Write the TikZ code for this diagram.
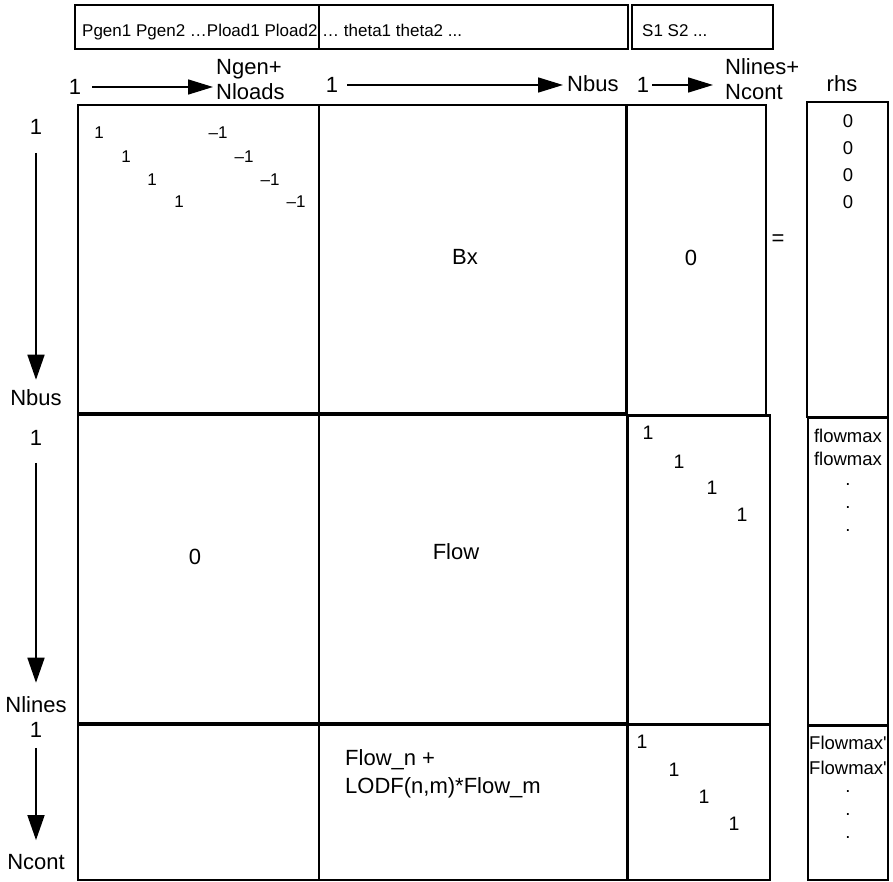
\documentclass[tikz,border=0pt]{standalone}
\usepackage{fontspec}
\setmainfont{Liberation Sans}
\usetikzlibrary{arrows.meta}
\begin{document}
\begin{tikzpicture}[x=1pt,y=-1pt,
  cell/.style={draw, line width=2pt, inner sep=0pt},
  hdrbox/.style={draw, line width=2.2pt, inner sep=0pt, minimum height=44pt},
  lbl/.style={font=\fontsize{22}{25}\selectfont, inner sep=0pt},
  hdrtxt/.style={font=\fontsize{17}{20}\selectfont, inner sep=0pt, anchor=base west},
  ent/.style={font=\fontsize{17}{20}\selectfont, inner sep=0pt},
  onee/.style={font=\fontsize{19.5}{22}\selectfont, inner sep=0pt},
  rhstxt/.style={font=\fontsize{18.5}{22}\selectfont, inner sep=0pt},
  harr/.style={line width=1.6pt, -{Triangle[length=25pt,width=15pt]}},
  varr/.style={line width=1.6pt, -{Triangle[length=25pt,width=17pt]}},
  sep/.style={line width=4pt}]
\useasboundingbox (0,0) rectangle (893,882);
% header boxes
\node[hdrbox, minimum width=244pt] (hdr1) at (197,27) {};
\node[hdrbox, minimum width=309pt] (hdr2) at (473.5,27) {};
\node[hdrbox, minimum width=141pt] (hdr3) at (702.5,27) {};
\node[hdrtxt] (t1) at (82,37) {Pgen1 Pgen2 …Pload1 Pload2};
\node[hdrtxt] (t2) at (322,37) {…  theta1 theta2 ...};
\node[hdrtxt] (t3) at (642,37) {S1 S2 ...};
% top index arrows
\node[lbl] (a1) at (75,87) {1};
\node[lbl, anchor=base west, align=left] (a1e) at (216,100) {Ngen+\\Nloads};
\draw[harr, shorten <=11pt, shorten >=3pt] (a1.east) -- (a1.east -| a1e.west);
\node[lbl] (a2) at (332,85) {1};
\node[lbl, anchor=base west] (a2e) at (567,92) {Nbus};
\draw[harr, shorten <=9pt, shorten >=4pt] (a2.east) -- (a2.east -| a2e.west);
\node[lbl] (a3) at (643,85) {1};
\node[lbl, anchor=base west, align=left] (a3e) at (725,100) {Nlines+\\Ncont};
\draw[harr, shorten <=3pt, shorten >=12pt] (a3.east) -- (a3.east -| a3e.west);
\node[lbl, anchor=base] (rhs) at (842,92) {rhs};
% left index arrows
\node[lbl] (v1) at (36,127) {1};
\node[lbl] (v1e) at (36,398) {Nbus};
\draw[varr, shorten <=18pt, shorten >=10pt] (v1.south) -- (v1e.north);
\node[lbl] (v2) at (36,438) {1};
\node[lbl] (v2e) at (36,705) {Nlines};
\draw[varr, shorten <=17pt, shorten >=14pt] (v2.south) -- (v2e.north);
\node[lbl] (v3) at (36,730) {1};
\node[lbl] (v3e) at (36,862) {Ncont};
\draw[varr, shorten <=10pt, shorten >=14pt] (v3.south) -- (v3e.north);
% matrix cells
\node[cell, minimum width=241pt, minimum height=310pt] (c11) at (198.5,260) {};
\node[cell, minimum width=308pt, minimum height=310pt] (c12) at (473,260) {};
\node[cell, minimum width=140pt, minimum height=310pt] (c13) at (696,260) {};
\node[cell, minimum width=241pt, minimum height=310pt] (c21) at (198.5,570) {};
\node[cell, minimum width=308pt, minimum height=310pt] (c22) at (473,570) {};
\node[cell, minimum width=142pt, minimum height=309pt] (c23) at (699,570.5) {};
\node[cell, minimum width=241pt, minimum height=155pt] (c31) at (198.5,802.5) {};
\node[cell, minimum width=308pt, minimum height=155pt] (c32) at (473,802.5) {};
\node[cell, minimum width=142pt, minimum height=155pt] (c33) at (699,802.5) {};
\draw[sep] (c21.north west) -- (c22.north east);
\draw[sep] (c31.north west) -- (c32.north east);
\draw[line width=3pt] (c23.north west) -- (c23.north east);
\draw[line width=3pt] (c33.north west) -- (c33.north east);
% rhs column
\node[cell, minimum width=81pt, minimum height=315pt] (r1) at (847.5,259.5) {};
\node[cell, minimum width=80pt, minimum height=307pt] (r2) at (848,571.5) {};
\node[cell, minimum width=80pt, minimum height=154pt] (r3) at (848,803) {};
% cell contents
\node[ent] (p1) at (99,133) {1};
\node[ent] (p2) at (126,157) {1};
\node[ent] (p3) at (152,180) {1};
\node[ent] (p4) at (179,202) {1};
\node[ent] (m1) at (218,133) {–1};
\node[ent] (m2) at (244,157) {–1};
\node[ent] (m3) at (270,180) {–1};
\node[ent] (m4) at (296,202) {–1};
\node[lbl] (bx) at (465,257) {Bx};
\node[lbl] (z13) at (691,258) {0};
\node[lbl] (eq) at (778,240) {=};
\node[lbl] (z21) at (195,557) {0};
\node[lbl] (flow) at (456,552) {Flow};
\node[onee] (q1) at (648,433) {1};
\node[onee] (q2) at (679,462) {1};
\node[onee] (q3) at (712,488) {1};
\node[onee] (q4) at (742,515) {1};
\node[lbl, anchor=base west, align=left, font=\fontsize{22}{28}\selectfont] (lodf) at (345,793) {Flow\_n +\\LODF(n,m)*Flow\_m};
\node[onee] (s1) at (642,742) {1};
\node[onee] (s2) at (674,770) {1};
\node[onee] (s3) at (704,797) {1};
\node[onee] (s4) at (734,824) {1};
% rhs contents
\node[rhstxt] (o1) at (848,121) {0};
\node[rhstxt] (o2) at (848,148) {0};
\node[rhstxt] (o3) at (848,175) {0};
\node[rhstxt] (o4) at (848,202) {0};
\node[rhstxt] (f1) at (848,436) {flowmax};
\node[rhstxt] (f2) at (848,459) {flowmax};
\node[rhstxt] (d1) at (848,485) {.};
\node[rhstxt] (d2) at (848,508) {.};
\node[rhstxt] (d3) at (848,531) {.};
\node[rhstxt] (g1) at (848,743) {Flowmax\textquotesingle};
\node[rhstxt] (g2) at (848,768) {Flowmax\textquotesingle};
\node[rhstxt] (e1) at (848,792) {.};
\node[rhstxt] (e2) at (848,815) {.};
\node[rhstxt] (e3) at (848,838) {.};
\end{tikzpicture}
\end{document}
